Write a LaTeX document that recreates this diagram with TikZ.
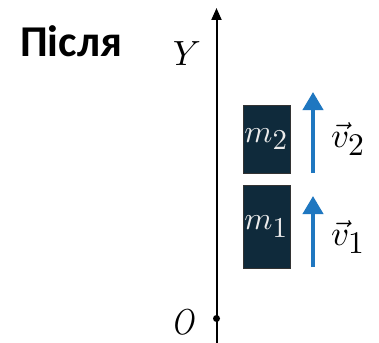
\documentclass[tikz,border=0pt]{standalone}
\usepackage{fontspec}
\usepackage{graphicx}
\setmainfont{Carlito}
\usetikzlibrary{arrows.meta}
\definecolor{boxnavy}{HTML}{0F2A3B}
\definecolor{velblue}{HTML}{1F77C0}
\newcommand{\bigmath}[2]{\scalebox{#1}{$#2$}}
\newcommand{\subdig}[1]{\scalebox{0.9}{$#1$}}
\tikzset{
  massbox/.style={fill=boxnavy, draw=black!80, line width=0.6pt, minimum width=47pt, inner sep=0pt, text=black!8},
  velarrow/.style={draw=velblue, line width=4pt, -{Triangle[width=20pt,length=18pt]}},
  axisline/.style={draw=black, line width=2pt, -{Triangle[width=10pt,length=12pt]}},
  biglabel/.style={inner sep=0pt},
  vlabel/.style={inner sep=0pt, anchor=west}
}
\begin{document}
\begin{tikzpicture}[x=1pt,y=-1pt]
\useasboundingbox (0,0) rectangle (379,342);
\fill[white] (0,0) rectangle (379,342);
% title
\node[anchor=base west, inner sep=0pt, font=\fontsize{44}{44}\selectfont\bfseries] (title) at (20,57) {Після};
% axis
\coordinate (bot) at (216.5,343);
\coordinate (top) at (216.5,8);
\draw[axisline] (bot) -- (top);
\node[circle, fill=black, inner sep=0pt, minimum size=7pt] (O) at (216.5,318.5) {};
\node[biglabel] (Olab) at (185,322.5) {\scalebox{2.8}[3.6]{$O$}};
\node[biglabel] (Ylab) at (187,53.5) {\bigmath{3.5}{Y}};
% boxes
\node[massbox, minimum height=68pt] (m2) at (266.5,139) {\raisebox{-4pt}{\bigmath{3.2}{m_{\subdig{2}}}}};
\node[massbox, minimum height=83pt] (m1) at (266.5,226.5) {\raisebox{-4pt}{\bigmath{3.2}{m_{\subdig{1}}}}};
% velocity arrows
\coordinate (v2s) at (313,173);
\coordinate (v2e) at (313,92);
\coordinate (v1s) at (313,267);
\coordinate (v1e) at (313,196);
\draw[velarrow] (v2s) -- (v2e);
\draw[velarrow] (v1s) -- (v1e);
\node[vlabel] (v2lab) at (331,139) {\bigmath{3.5}{\vec{v}_{\subdig{2}}}};
\node[vlabel] (v1lab) at (331,237) {\bigmath{3.5}{\vec{v}_{\subdig{1}}}};
\end{tikzpicture}
\end{document}
